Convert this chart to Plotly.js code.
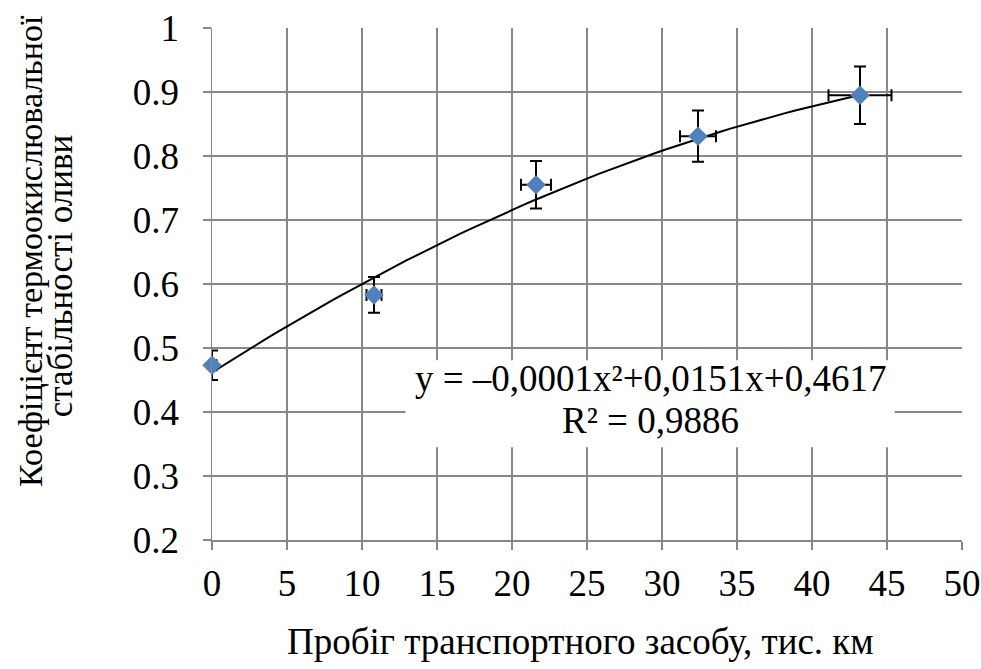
<!DOCTYPE html>
<html><head><meta charset="utf-8">
<script src="https://cdn.plot.ly/plotly-3.0.1.min.js"></script>
<style>body{margin:0;background:#fff}#chart{width:981px;height:669px}</style>
</head><body><div id="chart"></div>
<script>
const mileage = [0, 10.8, 21.6, 32.4, 43.2];
const coef = [0.473, 0.583, 0.755, 0.831, 0.895];
const errY = [0.023, 0.028, 0.037, 0.04, 0.045];
const errX = [0.3, 0.5, 1.0, 1.2, 2.1];
const xTicks = [0, 5, 10, 15, 20, 25, 30, 35, 40, 45, 50];
const yTicks = [0.2, 0.3, 0.4, 0.5, 0.6, 0.7, 0.8, 0.9, 1];
const xTitle = 'Пробіг транспортного засобу, тис. км';
const yTitle1 = 'Коефіцієнт термоокислювальної';
const yTitle2 = 'стабільності оливи';
const eqText = 'y = –0,0001x²+0,0151x+0,4617';
const r2Text = 'R² = 0,9886';
// trendline coefficients (displayed equation is rounded)
const trendA = -0.000115, trendB = 0.0150, trendC = 0.4617;
const trendX = [];
for (let i = 0; i <= 60; i++) trendX.push(43.2 * i / 60);
const trendY = trendX.map(x => trendA * x * x + trendB * x + trendC);

const font = "Liberation Serif";
const data = [
  {x: trendX, y: trendY, mode: 'lines', line: {color: '#000', width: 2}, hoverinfo: 'skip', showlegend: false},
  {x: mileage, y: coef, mode: 'markers', showlegend: false, cliponaxis: false,
   marker: {symbol: 'diamond', size: 15, color: '#4F81BD'},
   error_y: {type: 'data', array: errY, visible: true, color: '#000', thickness: 2, width: 6},
   error_x: {type: 'data', array: errX, visible: true, color: '#000', thickness: 2, width: 6}}
];
const tf = {family: font, size: 37, color: '#000'};
const ann = (o) => Object.assign({showarrow: false, xanchor: 'center', yanchor: 'middle'}, o);
const layout = {
  width: 981, height: 669,
  margin: {l: 212, r: 19, t: 28, b: 129},
  paper_bgcolor: '#fff', plot_bgcolor: '#fff',
  font: {family: font, size: 37, color: '#000'},
  xaxis: {range: [0, 50], tickvals: xTicks, ticktext: xTicks.map(String),
    showgrid: true, gridcolor: '#888', gridwidth: 1.5, zeroline: false,
    showline: true, linecolor: '#888', linewidth: 1.5,
    ticks: 'outside', ticklen: 8, tickcolor: '#888', tickwidth: 1.5,
    ticklabelstandoff: 2, tickfont: tf, automargin: false},
  yaxis: {range: [0.2, 1], tickvals: yTicks, ticktext: yTicks.map(String),
    showgrid: true, gridcolor: '#888', gridwidth: 1.5, zeroline: false,
    showline: true, linecolor: '#888', linewidth: 1.5,
    ticks: 'outside', ticklen: 8, tickcolor: '#888', tickwidth: 1.5,
    ticklabelstandoff: 16, tickfont: tf, automargin: false},
  shapes: [{type: 'rect', xref: 'x', yref: 'y', x0: 12.9, x1: 45.5, y0: 0.345, y1: 0.481,
    fillcolor: '#fff', line: {width: 0}, layer: 'between'}],
  annotations: [
    ann({xref: 'x', yref: 'y', x: 29.2, y: 0.4516, text: eqText, font: tf}),
    ann({xref: 'x', yref: 'y', x: 29.2, y: 0.386, text: r2Text, font: tf}),
    ann({xref: 'paper', yref: 'paper', x: 0.4907, y: -0.199, text: xTitle,
     font: {family: font, size: 37, color: '#000'}}),
    ann({xref: 'paper', yref: 'paper', x: -0.2413, y: 0.5645, textangle: -90, text: yTitle1,
     font: {family: font, size: 34, color: '#000'}}),
    ann({xref: 'paper', yref: 'paper', x: -0.2022, y: 0.5156, textangle: -90, text: yTitle2,
     font: {family: font, size: 35, color: '#000'}})
  ]
};
Plotly.newPlot('chart', data, layout, {displayModeBar: false, staticPlot: true});
</script></body></html>
